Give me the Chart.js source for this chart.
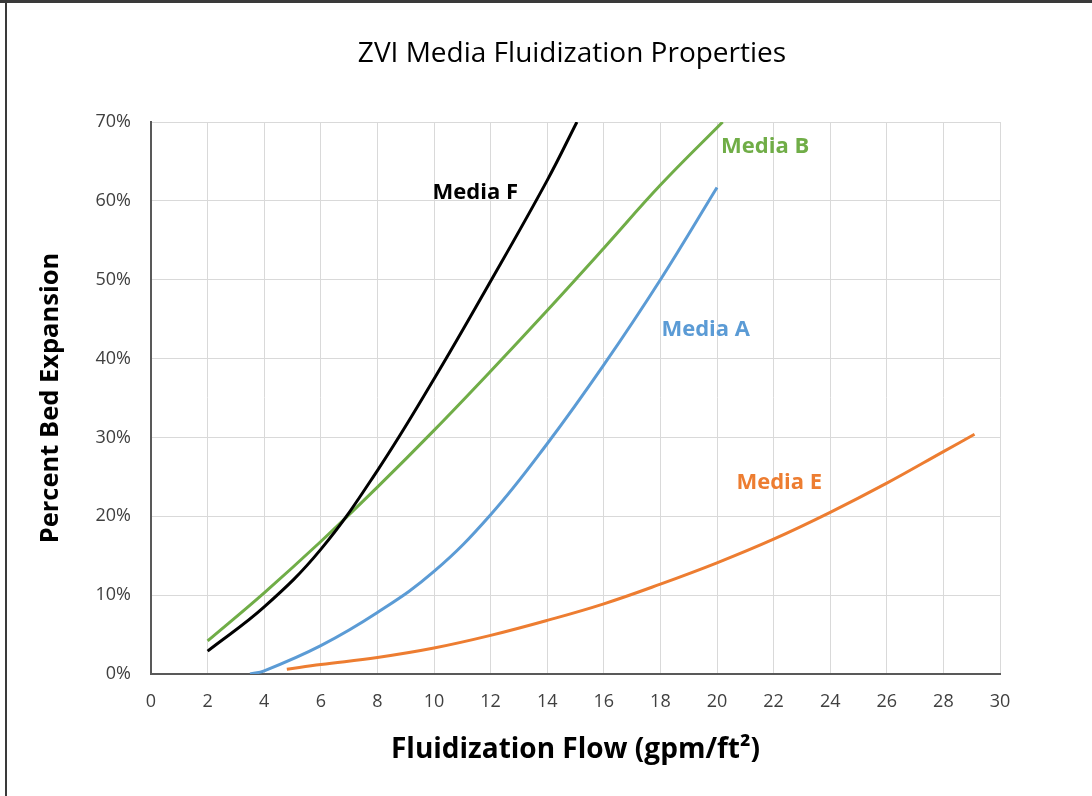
<!DOCTYPE html>
<html>
<head>
<meta charset="utf-8">
<title>ZVI Media Fluidization Properties</title>
<script src="https://cdn.jsdelivr.net/npm/chart.js@4.4.1/dist/chart.umd.min.js"></script>
<style>
    html, body { margin: 0; padding: 0; background: #fff; }
    #wrap { width: 1092px; height: 796px; position: relative; }
</style>
</head>
<body>
<div id="wrap"><canvas id="fluidChart"></canvas></div>
<script>
// flow (gpm/ft2) and bed expansion (%)
const mediaF_x = [2, 4, 6, 8, 10, 12, 14, 15.05];
const mediaF_y = [2.9, 8.5, 15.8, 25.8, 37.4, 49.8, 62.6, 70];

const mediaB_x = [2, 4, 6, 8, 10, 12, 14, 16, 18, 20.2];
const mediaB_y = [4.2, 10.3, 16.8, 23.7, 30.9, 38.4, 46.1, 54, 62, 70];

const mediaA_x = [3.5, 4, 6, 8, 10, 12, 14, 16, 18, 20];
const mediaA_y = [0, 0.4, 3.6, 7.8, 13.0, 20.2, 29.2, 39.2, 50.0, 61.7];

const mediaE_x = [4.8, 6, 8, 10, 12, 14, 16, 18, 20, 22, 24, 26, 28, 29.1];
const mediaE_y = [0.6, 1.2, 2.1, 3.3, 4.9, 6.8, 8.9, 11.4, 14.1, 17.1, 20.5, 24.2, 28.2, 30.4];

const seriesNames = ['Media F', 'Media B', 'Media A', 'Media E'];
const seriesColors = ['#000000', '#70AD47', '#5B9BD5', '#ED7D31'];
// where each series name sits (data units)
const labelX = [11.46, 21.7, 19.6, 22.2];
const labelY = [61, 66.8, 43.7, 24.2];

const xTicks = [0, 2, 4, 6, 8, 10, 12, 14, 16, 18, 20, 22, 24, 26, 28, 30];
const yTicks = [0, 10, 20, 30, 40, 50, 60, 70];

const chartTitle = 'ZVI Media Fluidization Properties';
const FONT = 'Open Sans';

function toPoints(xs, ys) {
    return xs.map((x, i) => ({ x: x, y: ys[i] }));
}

const allX = [mediaF_x, mediaB_x, mediaA_x, mediaE_x];
const allY = [mediaF_y, mediaB_y, mediaA_y, mediaE_y];

const datasets = seriesNames.map((name, i) => ({
    label: name,
    data: toPoints(allX[i], allY[i]),
    borderColor: seriesColors[i],
    backgroundColor: seriesColors[i],
    borderWidth: 3,
    pointRadius: 0,
    tension: 0.4,
    fill: false
}));

// frame lines like the screenshot border + the title
const framePlugin = {
    id: 'frame',
    beforeDraw(chart) {
        const c = chart.ctx;
        c.save();
        c.fillStyle = '#fff';
        c.fillRect(0, 0, chart.width, chart.height);
        c.fillStyle = '#3a3a3a';
        c.fillRect(0, 0, chart.width, 3);
        c.fillRect(5, 0, 2, chart.height);
        c.fillStyle = '#000';
        c.font = '28px "' + FONT + '"';
        c.textAlign = 'center';
        c.textBaseline = 'middle';
        c.fillText(chartTitle, 572, 54);
        c.restore();
    }
};

// series names written next to the curves
const seriesLabels = {
    id: 'seriesLabels',
    afterDatasetsDraw(chart) {
        const c = chart.ctx;
        const xs = chart.scales.x, ys = chart.scales.y;
        c.save();
        c.font = 'bold 22px "' + FONT + '"';
        c.textAlign = 'center';
        c.textBaseline = 'middle';
        seriesNames.forEach((name, i) => {
            c.fillStyle = seriesColors[i];
            c.fillText(name, xs.getPixelForValue(labelX[i]), ys.getPixelForValue(labelY[i]));
        });
        c.restore();
    }
};

new Chart(document.getElementById('fluidChart').getContext('2d'), {
    type: 'line',
    data: { datasets: datasets },
    plugins: [framePlugin, seriesLabels],
    options: {
        responsive: true,
        maintainAspectRatio: false,
        animation: false,
        layout: { padding: { left: 8, right: 92, top: 122, bottom: 0 } },
        plugins: {
            legend: { display: false },
            tooltip: { enabled: false },
            title: { display: false }
        },
        scales: {
            x: {
                type: 'linear',
                min: 0,
                max: 30,
                afterBuildTicks: s => { s.ticks = xTicks.map(v => ({ value: v })); },
                grid: { color: '#d9d9d9', lineWidth: 1, drawTicks: false },
                border: { color: '#595959', width: 2 },
                ticks: { color: '#404040', font: { family: FONT, size: 18 }, padding: 17 },
                title: {
                    display: true,
                    text: 'Fluidization Flow (gpm/ft\u00B2)',
                    color: '#000',
                    font: { family: FONT, size: 28, weight: 'bold' },
                    padding: { top: 20, bottom: 29 }
                },
                afterFit: s => { s.height = 122; }
            },
            y: {
                type: 'linear',
                min: 0,
                max: 70,
                afterBuildTicks: s => { s.ticks = yTicks.map(v => ({ value: v })); },
                grid: { color: '#d9d9d9', lineWidth: 1, drawTicks: false },
                border: { color: '#595959', width: 2 },
                ticks: { color: '#404040', font: { family: FONT, size: 18 }, padding: 20, callback: v => v + '%' },
                title: {
                    display: true,
                    text: 'Percent Bed Expansion',
                    color: '#000',
                    font: { family: FONT, size: 25.5, weight: 'bold' },
                    padding: { top: 27, bottom: 20 }
                },
                afterFit: s => { s.width = 143; }
            }
        }
    }
});
</script>
</body>
</html>
